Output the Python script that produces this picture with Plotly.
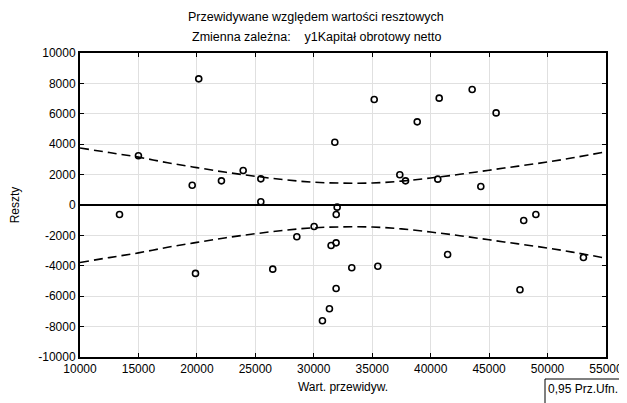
import plotly.graph_objects as go

# Residual scatter data (predicted value, residual)
pred = [13380, 15000, 19600, 20160, 19880, 22100, 23960, 25470, 25470, 26490,
        28550, 30030, 30740, 31340, 31480, 31910, 31910, 31920, 32000, 31800,
        33250, 35170, 35480, 37360, 37850, 38850, 40610, 40730, 41450, 43550,
        44290, 45600, 47640, 47960, 49000, 53070]
resid = [-625, 3240, 1300, 8300, -4500, 1590, 2270, 1720, 210, -4220,
         -2090, -1410, -7620, -6830, -2660, -2490, -5490, -625, -140, 4130,
         -4130, 6940, -4030, 1990, 1590, 5470, 1700, 7030, -3260, 7600,
         1220, 6060, -5580, -1020, -625, -3450]

# 0.95 confidence band
band_x = [10000, 12500, 15000, 17500, 20000, 22500, 25000, 27500, 30000, 32500,
          35000, 37500, 40000, 42500, 45000, 47500, 50000, 52500, 55000]
band_upper = [3750, 3450, 3150, 2780, 2460, 2150, 1890, 1660, 1500, 1440,
              1450, 1570, 1780, 2020, 2290, 2560, 2830, 3150, 3500]
band_lower = [-3780, -3460, -3150, -2780, -2460, -2150, -1890, -1660, -1500, -1440,
              -1450, -1570, -1780, -2020, -2290, -2560, -2830, -3150, -3500]

x_ticks = [10000, 15000, 20000, 25000, 30000, 35000, 40000, 45000, 50000, 55000]
y_ticks = [-10000, -8000, -6000, -4000, -2000, 0, 2000, 4000, 6000, 8000, 10000]

title_lines = ["Przewidywane względem wartości resztowych",
               "Zmienna zależna:    y1Kapitał obrotowy netto"]
legend_text = "0,95 Prz.Ufn."

FONT = "Liberation Sans, Arial, sans-serif"

fig = go.Figure()
for band in (band_upper, band_lower):
    fig.add_trace(go.Scatter(x=band_x, y=band, mode="lines",
                             line=dict(color="black", width=1.6, dash="9px,5px", shape="spline"),
                             showlegend=False, hoverinfo="skip"))
fig.add_trace(go.Scatter(x=pred, y=resid, mode="markers",
                         marker=dict(symbol="circle-open", size=6, color="black",
                                     line=dict(width=1.6, color="black")),
                         showlegend=False))

# page has an 8px body margin, so the figure is 8px smaller and margins shifted
fig.update_layout(
    width=619, height=395,
    margin=dict(l=72, r=21, t=45, b=46, autoexpand=False),
    paper_bgcolor="white", plot_bgcolor="white",
    font=dict(family=FONT, size=12, color="black"),
    xaxis=dict(range=[10000, 55000], tickvals=x_ticks, ticktext=[str(v) for v in x_ticks],
               showgrid=True, gridcolor="#e0e0e0", gridwidth=1,
               showline=True, linecolor="black", linewidth=2, mirror="ticks",
               ticks="inside", ticklen=4, tickcolor="black",
               zeroline=False, automargin=False,
               title=dict(text="Wart. przewidyw.", standoff=7, font=dict(size=12)),
               tickfont=dict(size=12)),
    yaxis=dict(range=[-10000, 10000], tickvals=y_ticks, ticktext=[str(v) for v in y_ticks],
               showgrid=True, gridcolor="#e0e0e0", gridwidth=1,
               showline=True, linecolor="black", linewidth=2, mirror="ticks",
               ticks="inside", ticklen=4, tickcolor="black",
               zeroline=True, zerolinecolor="black", zerolinewidth=2,
               automargin=False,
               title=dict(text="Reszty", standoff=16, font=dict(size=12)),
               tickfont=dict(size=12)),
)

title_y = [1.118, 1.052]
for line, ty in zip(title_lines, title_y):
    fig.add_annotation(text=line, xref="paper", yref="paper",
                       x=(316 - 80) / 526, y=ty, xanchor="center", yanchor="middle",
                       showarrow=False, font=dict(family=FONT, size=12.5, color="black"))

# legend box running off the page edge, as in the original (only top and left edges visible)
box_left = (545 - 80) / 526
box_top = (357 - 379) / 304
fig.add_shape(type="line", xref="paper", yref="paper",
              x0=box_left, x1=1.1, y0=box_top, y1=box_top,
              line=dict(color="black", width=1))
fig.add_shape(type="line", xref="paper", yref="paper",
              x0=box_left, x1=box_left, y0=box_top, y1=-0.3,
              line=dict(color="black", width=1))
fig.add_annotation(text=legend_text, xref="paper", yref="paper",
                   x=box_left, y=box_top, xanchor="left", yanchor="top", xshift=1, yshift=-1,
                   showarrow=False, align="left", font=dict(family=FONT, size=12, color="black"))

fig.write_html("out.html")
